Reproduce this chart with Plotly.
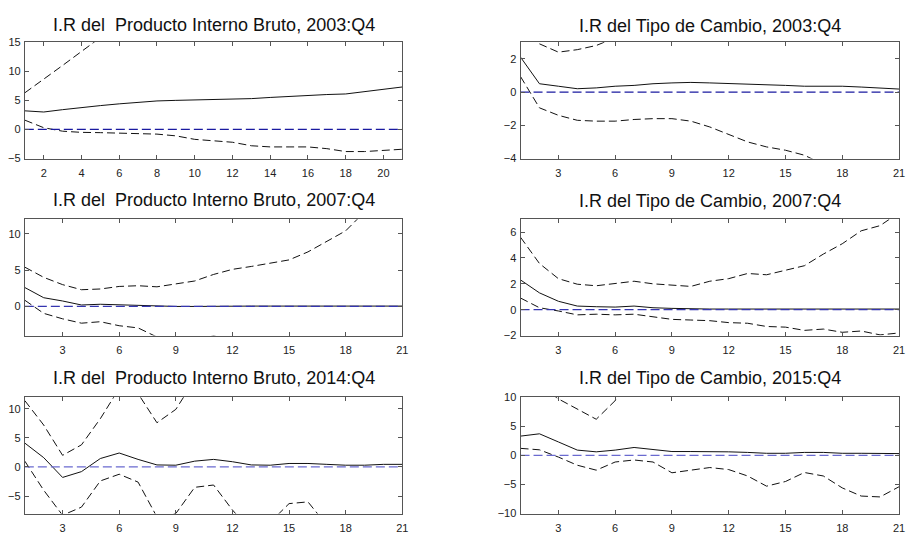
import plotly.graph_objects as go

W, H = 909, 542

horizon = list(range(1, 22))

titles = [
    "I.R del\u00a0 Producto Interno Bruto, 2003:Q4",
    "I.R del Tipo de Cambio, 2003:Q4",
    "I.R del\u00a0 Producto Interno Bruto, 2007:Q4",
    "I.R del Tipo de Cambio, 2007:Q4",
    "I.R del\u00a0 Producto Interno Bruto, 2014:Q4",
    "I.R del Tipo de Cambio, 2015:Q4",
]

# Panel 1: PIB 2003:Q4
pib03_mid = [3.2, 3.0, 3.4, 3.8, 4.1, 4.4, 4.7, 4.9, 5.0, 5.05, 5.1, 5.2, 5.3, 5.5, 5.7, 5.9, 6.0, 6.1, 6.5, 6.9, 7.3]
pib03_up = [6.3, 8.6, 11.0, 13.4, 15.8, 17.5, 19, 20, 21, 22, 23, 24, 25, 26, 27, 28, 29, 30, 31, 32, 33]
pib03_lo = [1.6, 0.3, -0.3, -0.5, -0.55, -0.6, -0.7, -0.8, -1.1, -1.7, -1.95, -2.2, -2.8, -3.0, -3.0, -3.0, -3.3, -3.8, -3.8, -3.6, -3.4]

# Panel 2: TC 2003:Q4
tc03_mid = [2.1, 0.5, 0.35, 0.2, 0.25, 0.35, 0.4, 0.5, 0.55, 0.58, 0.55, 0.52, 0.5, 0.45, 0.4, 0.35, 0.35, 0.35, 0.3, 0.25, 0.18]
tc03_up = [3.8, 2.9, 2.4, 2.55, 2.8, 3.3, 3.8, 4.2, 4.5, 4.8, 5.0, 5.3, 5.6, 5.9, 6.2, 6.5, 6.8, 7.0, 7.3, 7.6, 7.9]
tc03_lo = [0.93, -0.95, -1.4, -1.7, -1.75, -1.75, -1.65, -1.6, -1.6, -1.75, -2.1, -2.55, -3.0, -3.3, -3.5, -3.8, -4.4, -4.9, -5.3, -5.7, -6.1]

# Panel 3: PIB 2007:Q4
pib07_mid = [2.6, 1.2, 0.75, 0.2, 0.3, 0.2, 0.1, 0.02, 0.0, 0.0, 0.05, 0.05, 0.05, 0.05, 0.05, 0.05, 0.05, 0.05, 0.05, 0.05, 0.05]
pib07_up = [5.4, 4.0, 3.0, 2.3, 2.4, 2.75, 2.85, 2.7, 3.1, 3.5, 4.4, 5.1, 5.5, 6.0, 6.4, 7.5, 8.9, 10.4, 13.0, 14.0, 15.0]
pib07_lo = [0.85, -0.95, -1.7, -2.3, -2.1, -2.65, -2.95, -4.2, -4.8, -4.6, -4.05, -4.5, -5.0, -5.5, -6.0, -6.5, -7.0, -7.5, -8.0, -8.5, -9.0]

# Panel 4: TC 2007:Q4
tc07_mid = [2.3, 1.3, 0.65, 0.28, 0.23, 0.2, 0.28, 0.15, 0.1, 0.05, 0.05, 0.05, 0.05, 0.05, 0.05, 0.05, 0.05, 0.05, 0.05, 0.05, 0.05]
tc07_up = [5.6, 3.57, 2.4, 1.97, 1.85, 2.05, 2.2, 2.0, 1.92, 1.8, 2.2, 2.4, 2.8, 2.7, 3.05, 3.4, 4.3, 5.1, 6.1, 6.5, 7.5]
tc07_lo = [0.9, 0.15, -0.1, -0.4, -0.35, -0.4, -0.35, -0.55, -0.75, -0.8, -0.85, -1.0, -1.05, -1.3, -1.35, -1.6, -1.5, -1.75, -1.65, -1.95, -1.8]

# Panel 5: PIB 2014:Q4
pib14_mid = [4.1, 1.6, -1.8, -0.8, 1.45, 2.4, 1.3, 0.35, 0.3, 1.0, 1.3, 0.9, 0.35, 0.3, 0.6, 0.6, 0.45, 0.3, 0.3, 0.45, 0.45]
pib14_up = [11.4, 7.2, 2.0, 3.8, 8.3, 13.5, 12.6, 7.6, 9.9, 15.0, 17.0, 18.0, 19.0, 20.0, 21.0, 22.0, 23.0, 24.0, 25.0, 26.0, 27.0]
pib14_lo = [1.0, -4.0, -8.3, -6.9, -2.4, -1.25, -2.6, -8.6, -8.0, -3.5, -3.1, -7.4, -11.0, -9.5, -6.3, -6.0, -10.0, -12.0, -13.0, -14.0, -15.0]

# Panel 6: TC 2015:Q4
tc15_mid = [3.3, 3.7, 2.3, 0.9, 0.6, 0.9, 1.35, 1.05, 0.65, 0.65, 0.65, 0.6, 0.5, 0.35, 0.35, 0.5, 0.5, 0.35, 0.35, 0.3, 0.3]
tc15_up = [14.0, 12.0, 9.7, 8.0, 6.2, 9.4, 14.0, 16.0, 18.0, 19.0, 20.0, 21.0, 22.0, 23.0, 24.0, 25.0, 26.0, 27.0, 28.0, 29.0, 30.0]
tc15_lo = [1.2, 0.95, -0.3, -1.7, -2.55, -1.15, -0.8, -1.15, -3.0, -2.55, -2.1, -2.45, -3.55, -5.3, -4.5, -2.95, -3.55, -5.6, -7.0, -7.15, -5.4]

panels = [
    (pib03_mid, pib03_up, pib03_lo),
    (tc03_mid, tc03_up, tc03_lo),
    (pib07_mid, pib07_up, pib07_lo),
    (tc07_mid, tc07_up, tc07_lo),
    (pib14_mid, pib14_up, pib14_lo),
    (tc15_mid, tc15_up, tc15_lo),
]

y_ranges = [[-5, 15], [-4, 3], [-4, 12], [-2, 7], [-8, 12], [-10, 10]]
y_ticks = [[-5, 0, 5, 10, 15], [-4, -2, 0, 2], [0, 5, 10], [-2, 0, 2, 4, 6], [-5, 0, 5, 10], [-10, -5, 0, 5, 10]]
x_ticks = [list(range(2, 21, 2))] + [list(range(3, 22, 3))] * 5

# layout (pixels)
col_px = [(25, 405), (524, 905)]
row_px = [(37, 156), (218, 337), (400, 519)]
title_y_px = [[19, 20], [198, 199], [380, 380]]
zero_colors = ["#1a1aa0", "#1a1aa0", "#3535b0", "#3535b0", "#6a6ad0", "#6a6ad0"]

fig = go.Figure()
layout = dict(
    width=W, height=H, margin=dict(l=0, r=0, t=0, b=0),
    paper_bgcolor="white", plot_bgcolor="white", showlegend=False,
    font=dict(family="Liberation Sans, Arial, sans-serif", color="#222"),
)
annotations = []

for i, (mid, up, lo) in enumerate(panels):
    r, c = divmod(i, 2)
    n = i + 1
    xa = "x" if n == 1 else f"x{n}"
    ya = "y" if n == 1 else f"y{n}"
    for vals, dash in ((up, "8px,4px"), (lo, "8px,4px"), (mid, "solid")):
        fig.add_trace(go.Scatter(x=horizon, y=vals, mode="lines", xaxis=xa, yaxis=ya,
                                 line=dict(color="#111", width=1, dash=dash), hoverinfo="skip"))
    fig.add_trace(go.Scatter(x=[horizon[0], horizon[-1]], y=[0, 0], mode="lines", xaxis=xa, yaxis=ya,
                             line=dict(color=zero_colors[i], width=1.2, dash="9px,4px"), hoverinfo="skip"))
    x0, x1 = col_px[c]
    top, bot = row_px[r]
    common = dict(showgrid=False, zeroline=False, showline=True, linecolor="#555", linewidth=1,
                  mirror="ticks", ticks="inside", ticklen=4, tickcolor="#555",
                  tickfont=dict(size=11, color="#222"))
    layout["xaxis" if n == 1 else f"xaxis{n}"] = dict(
        domain=[x0 / W, x1 / W], range=[1, 21], anchor=ya, tickvals=x_ticks[i],
        ticklabelstandoff=4, **common)
    layout["yaxis" if n == 1 else f"yaxis{n}"] = dict(
        domain=[1 - bot / H, 1 - top / H], range=y_ranges[i], anchor=xa, tickvals=y_ticks[i],
        ticklabelstandoff=1, **common)
    annotations.append(dict(
        text=titles[i], x=(x0 + x1) / 2 / W, y=1 - title_y_px[r][c] / H, xref="paper", yref="paper",
        xanchor="center", yanchor="middle", showarrow=False,
        font=dict(size=18, color="#111", family="Liberation Sans, Arial, sans-serif")))

layout["annotations"] = annotations
fig.update_layout(**layout)
fig.write_html("out.html")
